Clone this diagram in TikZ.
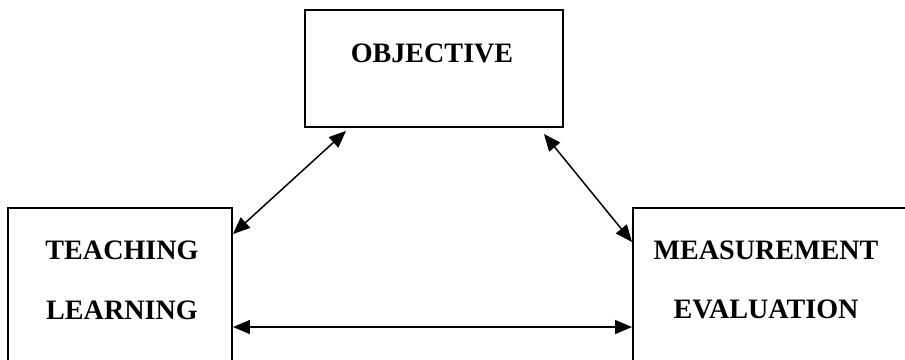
\documentclass[tikz,border=0pt]{standalone}
\usepackage{fontspec}
\setmainfont{Liberation Serif}
\usetikzlibrary{arrows.meta}

\begin{document}
\begin{tikzpicture}[line width=0.85pt,
  box/.style={draw, line width=1.1pt, rectangle, inner sep=0pt},
  lbl/.style={font=\bfseries\fontsize{16}{34}\selectfont, align=center, inner sep=0pt},
  link/.style={{Triangle[length=3.4mm,width=2.8mm]}-{Triangle[length=3.4mm,width=2.8mm]}}]
\useasboundingbox (0,0) rectangle (18.1,7.2);
\clip (0,0) rectangle (18.1,7.2);

% 三个方框
\node[box, minimum width=5.16cm, minimum height=2.34cm] (obj) at (8.68,5.83) {};
\node[box, minimum width=4.48cm, minimum height=3.54cm] (teach) at (2.40,1.27) {};
\node[box, minimum width=5.94cm, minimum height=3.54cm] (meas) at (15.63,1.27) {};

% 文字
\node[lbl] (objtext) at (8.64,6.14) {OBJECTIVE};
\node[lbl] (teachtext) at (2.44,1.60) {TEACHING\\LEARNING};
\node[lbl] (meastext) at (15.32,1.60) {MEASUREMENT\\EVALUATION};

% 箭头端点
\coordinate (objL) at ([xshift=0.84cm,yshift=-0.06cm]obj.south west);
\coordinate (objR) at ([xshift=-0.40cm,yshift=-0.12cm]obj.south east);
\coordinate (teachT) at ([yshift=-0.54cm]teach.north east);
\coordinate (teachB) at ([yshift=-2.40cm]teach.north east);
\coordinate (measT) at ([yshift=-0.70cm]meas.north west);
\coordinate (measB) at ([yshift=-2.40cm]meas.north west);

% 双向箭头
\draw[link] (objL) -- (teachT);
\draw[link] (objR) -- (measT);
\draw[link] (teachB) -- (measB);
\end{tikzpicture}
\end{document}
